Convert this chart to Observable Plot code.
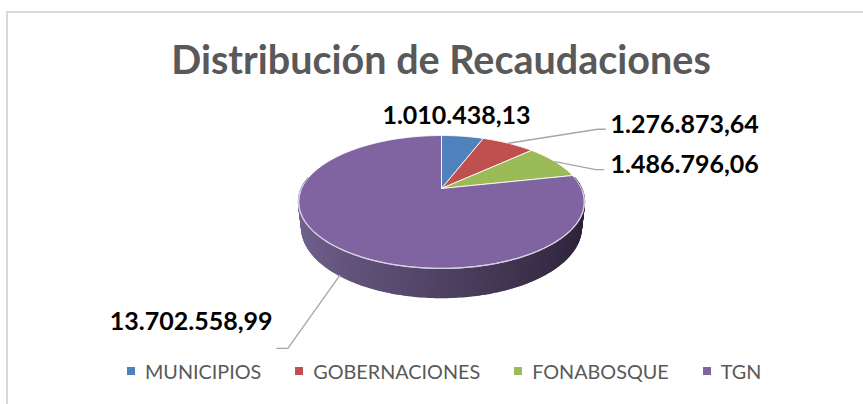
<!DOCTYPE html>
<html>
<head>
<meta charset="utf-8">
<script src="https://cdn.jsdelivr.net/npm/d3@7"></script>
<script src="https://cdn.jsdelivr.net/npm/@observablehq/plot@0.6"></script>
<style>
  body { margin: 0; background: #fff; }
  #wrap { position: relative; width: 863px; height: 404px; overflow: hidden; font-family: Lato, "Open Sans", sans-serif; }
  #frame { position: absolute; left: 6px; top: 11px; width: 900px; height: 420px; border-top: 2px solid #d9d9d9; border-left: 2px solid #d9d9d9; box-sizing: border-box; }
  #title { position: absolute; left: 0; top: 39px; width: 882px; text-align: center; font-size: 39.5px; line-height: 1; font-weight: 700; color: #595959; white-space: nowrap; }
  #chart { position: absolute; left: 0; top: 90px; }
  #legend { position: absolute; left: 127px; top: 359px; display: flex; align-items: center; font-size: 19.8px; color: #595959; line-height: 24px; white-space: nowrap; }
  #legend .item { display: flex; align-items: center; margin-right: 34px; }
  #legend .sw { width: 8px; height: 8px; margin-right: 10px; }
</style>
</head>
<body>
<div id="wrap">
  <div id="frame"></div>
  <div id="title"></div>
  <div id="chart"></div>
  <div id="legend"></div>
</div>
<script>
// ---- data ----
const categories = ["MUNICIPIOS", "GOBERNACIONES", "FONABOSQUE", "TGN"];
const values = [1010438.13, 1276873.64, 1486796.06, 13702558.99];
const colors = ["#4F81BD", "#C0504D", "#9BBB59", "#8064A2"];
const titleText = "Distribución de Recaudaciones";

// ---- label layout (annotation placement) ----
const labelLayout = [
  {rim: null, elbow: null, tail: 0, text: [456, 115], anchor: "middle"},
  {rim: "top", elbow: [89, -14], tail: 8, text: [610, 124], anchor: "start"},
  {rim: "top", elbow: [41, 8], tail: 8, text: [610, 164], anchor: "start"},
  {rim: "bottom", elbow: [-52, 73], tail: -11, text: [272, 321], anchor: "end"}
];

// ---- 3D pie projection ----
const cx = 441, cy = 188, F = 614, D = 4.39, tiltDeg = 27.1, H = 0.204;
const s = Math.sin(tiltDeg * Math.PI / 180), c = Math.cos(tiltDeg * Math.PI / 180);
function proj(aRad, h) {
  const u = Math.sin(aRad), v = Math.cos(aRad);
  const depth = D + c * v - s * h;
  const up = c * h + s * v;
  return [cx + F * u / depth, cy - F * up / depth];
}
const deg = Math.PI / 180;

const fmt = d3.formatLocale({decimal: ",", thousands: ".", grouping: [3], currency: ["", ""]}).format(",.2f");
const arcs = d3.pie().sort(null).value(d => d)(values);

// top faces
const topPts = [];
arcs.forEach((a, i) => {
  const n = Math.max(2, Math.ceil((a.endAngle - a.startAngle) / deg));
  topPts.push({k: i, x: cx, y: cy});
  for (let j = 0; j <= n; j++) {
    const t = a.startAngle + (a.endAngle - a.startAngle) * j / n;
    const [x, y] = proj(t, 0);
    topPts.push({k: i, x, y});
  }
  topPts.push({k: i, x: cx, y: cy});
});

// side wall (front part), shaded by horizontal position
const shade = d3.interpolateRgb("#73628f", "#2b2137");
const sidePts = [];
for (let d = 80; d < 280; d += 1) {
  const a0 = d * deg, a1 = (d + 1) * deg;
  const u = Math.sin((d + 0.5) * deg);
  const t = ((d + 0.5) * deg) % (2 * Math.PI);
  const owner = arcs.findIndex(a => t >= a.startAngle && t < a.endAngle);
  const base = d3.rgb(colors[owner]);
  const fillCol = owner === 3 ? shade((1 + u) / 2) : d3.interpolateRgb(base.darker(0.6), base.darker(1.6))((1 + u) / 2);
  const q = [proj(a0, 0), proj(a1, 0), proj(a1, -H), proj(a0, -H), proj(a0, 0)];
  q.forEach(([x, y]) => sidePts.push({q: d, x, y, fill: fillCol}));
}

// front rim highlight
const rimPts = [];
for (let d = 92; d <= 268; d += 1) {
  const [x, y] = proj(d * deg, 0);
  rimPts.push({x, y});
}

// leaders and labels
const leaderPts = [];
const labels = [];
arcs.forEach((a, i) => {
  const L = labelLayout[i];
  const mid = (a.startAngle + a.endAngle) / 2;
  if (L.rim) {
    const [x0, y0] = proj(mid, L.rim === "top" ? 0 : -H);
    const ex = x0 + L.elbow[0], ey = y0 + L.elbow[1];
    leaderPts.push({k: i, x: x0, y: y0}, {k: i, x: ex, y: ey}, {k: i, x: ex + L.tail, y: ey});
  }
  labels.push({x: L.text[0], y: L.text[1], text: fmt(values[i]), anchor: L.anchor});
});

const labelFont = {fontSize: 25, fontWeight: "bold", fontFamily: "Lato, 'Open Sans', sans-serif", fill: "#000"};

const plot = Plot.plot({
  width: 863,
  height: 262,
  margin: 0,
  x: {domain: [0, 863], range: [0, 863], axis: null},
  y: {domain: [90, 352], range: [0, 262], axis: null},
  style: {background: "transparent", overflow: "visible"},
  marks: [
    Plot.line(sidePts, {x: "x", y: "y", z: "q", fill: "fill", stroke: "fill", strokeWidth: 1.6, curve: "linear-closed"}),
    Plot.line(topPts, {x: "x", y: "y", z: "k", fill: d => colors[d.k], stroke: "#ffffff", strokeOpacity: 0.85, strokeWidth: 1, strokeLinejoin: "round", curve: "linear"}),
    Plot.line(rimPts, {x: "x", y: "y", stroke: "#d6cfe0", strokeWidth: 1.3}),
    Plot.line(leaderPts, {x: "x", y: "y", z: "k", stroke: "#a6a6a6", strokeWidth: 1.3}),
    Plot.text(labels.filter(d => d.anchor === "start"), {x: "x", y: "y", text: "text", textAnchor: "start", ...labelFont}),
    Plot.text(labels.filter(d => d.anchor === "middle"), {x: "x", y: "y", text: "text", textAnchor: "middle", ...labelFont}),
    Plot.text(labels.filter(d => d.anchor === "end"), {x: "x", y: "y", text: "text", textAnchor: "end", ...labelFont})
  ]
});
document.getElementById("chart").appendChild(plot);
document.getElementById("title").textContent = titleText;

const legend = document.getElementById("legend");
categories.forEach((cat, i) => {
  const item = document.createElement("div");
  item.className = "item";
  const sw = document.createElement("span");
  sw.className = "sw";
  sw.style.background = colors[i];
  const lab = document.createElement("span");
  lab.textContent = cat;
  item.appendChild(sw);
  item.appendChild(lab);
  legend.appendChild(item);
});
</script>
</body>
</html>
